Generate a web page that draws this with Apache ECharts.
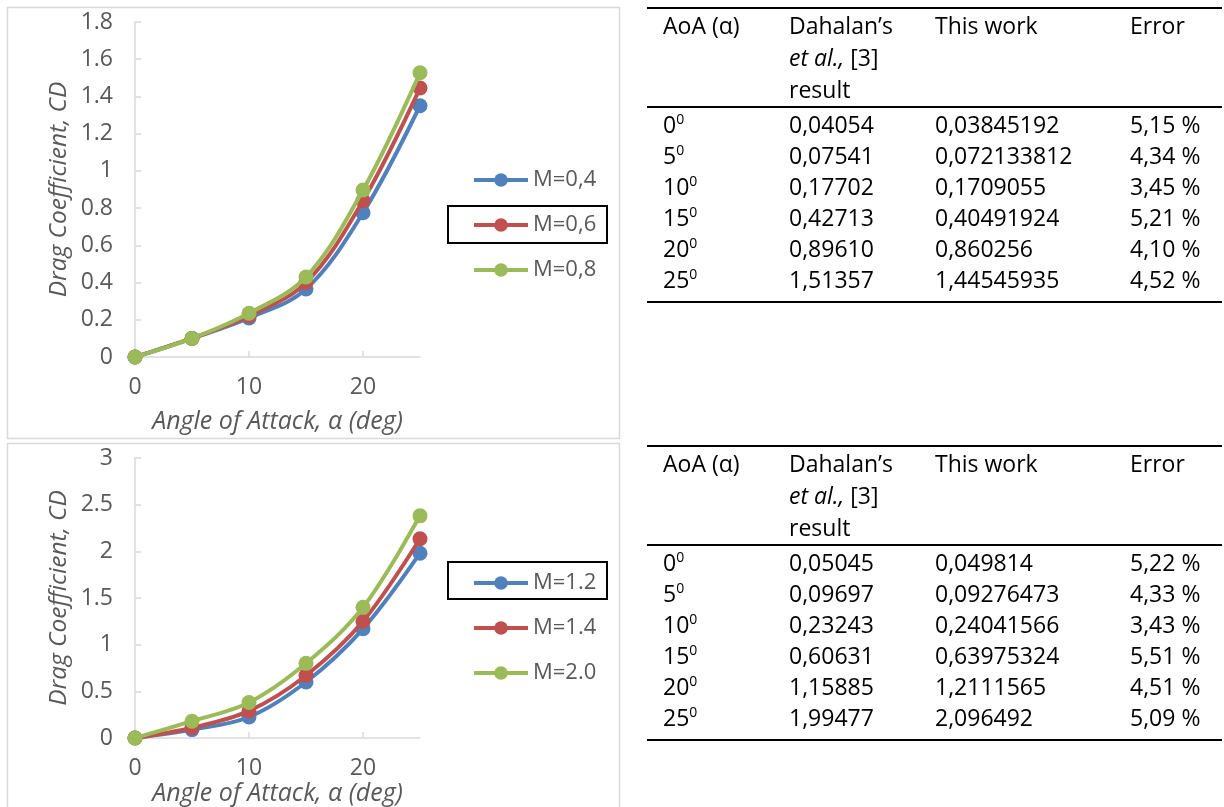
<!DOCTYPE html>
<html><head><meta charset="utf-8">
<script src="https://cdn.jsdelivr.net/npm/echarts@6/dist/echarts.min.js"></script>
<style>html,body{margin:0;padding:0;background:#fff}#c{width:1224px;height:807px}</style>
</head><body><div id="c"></div>
<script>
// ---- chart data ----
const angles = [0, 5, 10, 15, 20, 25];
const xTickValues = [0, 10, 20];
const namesSub = ['M=0,4', 'M=0,6', 'M=0,8'];
const cdM04 = [0, 0.10, 0.21, 0.365, 0.775, 1.35];
const cdM06 = [0, 0.10, 0.22, 0.40, 0.84, 1.445];
const cdM08 = [0, 0.10, 0.235, 0.43, 0.897, 1.527];
const namesSup = ['M=1.2', 'M=1.4', 'M=2.0'];
const cdM12 = [0, 0.09, 0.225, 0.60, 1.17, 1.98];
const cdM14 = [0, 0.11, 0.29, 0.67, 1.25, 2.135];
const cdM20 = [0, 0.18, 0.38, 0.80, 1.40, 2.38];
const seriesColors = ['#4f81bd', '#c0504d', '#9bbb59'];

// ---- table data ----
const tableHeaders = ['AoA (α)', 'Dahalan’s', '{i|et al.,} [3]', 'result', 'This work', 'Error'];
const tableAngles = ['0', '5', '10', '15', '20', '25'];
const dahalanSub = ['0,04054', '0,07541', '0,17702', '0,42713', '0,89610', '1,51357'];
const thisWorkSub = ['0,03845192', '0,072133812', '0,1709055', '0,40491924', '0,860256', '1,44545935'];
const errorSub = ['5,15 %', '4,34 %', '3,45 %', '5,21 %', '4,10 %', '4,52 %'];
const dahalanSup = ['0,05045', '0,09697', '0,23243', '0,60631', '1,15885', '1,99477'];
const thisWorkSup = ['0,049814', '0,09276473', '0,24041566', '0,63975324', '1,2111565', '2,096492'];
const errorSup = ['5,22 %', '4,33 %', '3,43 %', '5,51 %', '4,51 %', '5,09 %'];

const FONT = 'Open Sans';
const GRAY = '#595959';

function pairs(ys) { return angles.map((a, i) => [a, ys[i]]); }

function mkSeries(name, ys, idx, colorIdx) {
  return {
    name: name, type: 'line', xAxisIndex: idx, yAxisIndex: idx,
    data: pairs(ys), smooth: 0.35, symbol: 'circle', symbolSize: 15,
    lineStyle: { width: 4, color: seriesColors[colorIdx] },
    itemStyle: { color: seriesColors[colorIdx] },
    z: 2 + colorIdx
  };
}

function mkXAxis(i, gap) {
  return {
    gridIndex: i, type: 'value', min: 0, max: 25,
    axisLine: { show: true, onZero: false, lineStyle: { color: '#d9d9d9', width: 1.5 } },
    axisTick: { show: true, inside: true, length: 6, customValues: xTickValues, lineStyle: { color: '#d9d9d9', width: 1.5 } },
    axisLabel: { customValues: xTickValues, color: GRAY, fontSize: 23, fontFamily: FONT, margin: 19 },
    splitLine: { show: false },
    name: 'Angle of Attack, α (deg)', nameLocation: 'middle', nameGap: gap,
    nameTextStyle: { color: GRAY, fontSize: 25, fontStyle: 'italic', fontFamily: FONT }
  };
}
function mkYAxis(i, max, interval) {
  return {
    gridIndex: i, type: 'value', min: 0, max: max, interval: interval,
    axisLine: { show: true, lineStyle: { color: '#d9d9d9', width: 1.5 } },
    axisTick: { show: true, inside: true, length: 6, lineStyle: { color: '#d9d9d9', width: 1.5 } },
    axisLabel: { color: GRAY, fontSize: 23, fontFamily: FONT, margin: 22 },
    splitLine: { show: false },
    name: 'Drag Coefficient, CD', nameLocation: 'middle', nameGap: 63,
    nameTextStyle: { color: GRAY, fontSize: 24.5, fontStyle: 'italic', fontFamily: FONT }
  };
}

function mkLegend(names, top) {
  return {
    data: names, orient: 'vertical', left: 472, top: top, padding: 0,
    itemWidth: 54, itemHeight: 17, itemGap: 23, selectedMode: false,
    lineStyle: { width: 4 },
    textStyle: { color: GRAY, fontSize: 22, fontFamily: FONT }
  };
}

// ---- table graphics ----
const TFS = 23;
const colX = [663, 789, 935, 1130];
function txt(x, y, text, extraRich) {
  return {
    type: 'text', x: x, y: y, silent: true,
    style: {
      text: text, fill: '#000', fontSize: TFS, fontFamily: FONT,
      align: 'left', verticalAlign: 'middle',
      rich: Object.assign({
        i: { fontStyle: 'italic', fontSize: TFS, fontFamily: FONT, fill: '#000' }
      }, extraRich || {})
    }
  };
}
function rule(y) {
  return { type: 'line', silent: true, shape: { x1: 647, y1: y, x2: 1222, y2: y }, style: { stroke: '#000', lineWidth: 2 } };
}
function tableGraphics(y0, dah, work, err) {
  const els = [];
  els.push(rule(y0));
  els.push(txt(colX[0], y0 + 19, tableHeaders[0]));
  els.push(txt(colX[1], y0 + 19, tableHeaders[1]));
  els.push(txt(colX[1], y0 + 51, tableHeaders[2]));
  els.push(txt(colX[1], y0 + 83, tableHeaders[3]));
  els.push(txt(colX[2], y0 + 19, tableHeaders[4]));
  els.push(txt(colX[3], y0 + 19, tableHeaders[5]));
  els.push(rule(y0 + 99));
  tableAngles.forEach((a, i) => {
    const y = y0 + 118 + i * 31;
    els.push(txt(colX[0], y, '{n|' + a + '}{s|0}', {
      n: { fontSize: TFS, fontFamily: FONT, fill: '#000', lineHeight: 26 },
      s: { fontSize: 14, fontFamily: FONT, fill: '#000', lineHeight: 14, verticalAlign: 'top' }
    }));
    els.push(txt(colX[1], y, dah[i]));
    els.push(txt(colX[2], y, work[i]));
    els.push(txt(colX[3], y, err[i]));
  });
  els.push(rule(y0 + 294));
  return els;
}

const graphics = [
  { type: 'rect', silent: true, shape: { x: 7.5, y: 7.5, width: 612, height: 431 }, style: { fill: 'none', stroke: '#d9d9d9', lineWidth: 1.5 } },
  { type: 'rect', silent: true, shape: { x: 7.5, y: 443.5, width: 612, height: 400 }, style: { fill: 'none', stroke: '#d9d9d9', lineWidth: 1.5 } },
  { type: 'rect', silent: true, shape: { x: 448, y: 206, width: 159, height: 37 }, style: { fill: 'none', stroke: '#000', lineWidth: 2 } },
  { type: 'rect', silent: true, shape: { x: 448, y: 562, width: 159, height: 37 }, style: { fill: 'none', stroke: '#000', lineWidth: 2 } }
].concat(tableGraphics(8, dahalanSub, thisWorkSub, errorSub))
 .concat(tableGraphics(446, dahalanSup, thisWorkSup, errorSup));

const option = {
  animation: false,
  backgroundColor: '#fff',
  textStyle: { fontFamily: FONT },
  grid: [
    { left: 135, top: 22, width: 285, height: 335 },
    { left: 135, top: 458, width: 285, height: 280 }
  ],
  xAxis: [mkXAxis(0, 52), mkXAxis(1, 42)],
  yAxis: [mkYAxis(0, 1.8, 0.2), mkYAxis(1, 3, 0.5)],
  legend: [mkLegend(namesSub, 169), mkLegend(namesSup, 572)],
  series: [
    mkSeries(namesSub[0], cdM04, 0, 0),
    mkSeries(namesSub[1], cdM06, 0, 1),
    mkSeries(namesSub[2], cdM08, 0, 2),
    mkSeries(namesSup[0], cdM12, 1, 0),
    mkSeries(namesSup[1], cdM14, 1, 1),
    mkSeries(namesSup[2], cdM20, 1, 2)
  ],
  graphic: graphics
};

const chart = echarts.init(document.getElementById('c'), null, { renderer: 'canvas' });
chart.setOption(option);
</script>
</body></html>
